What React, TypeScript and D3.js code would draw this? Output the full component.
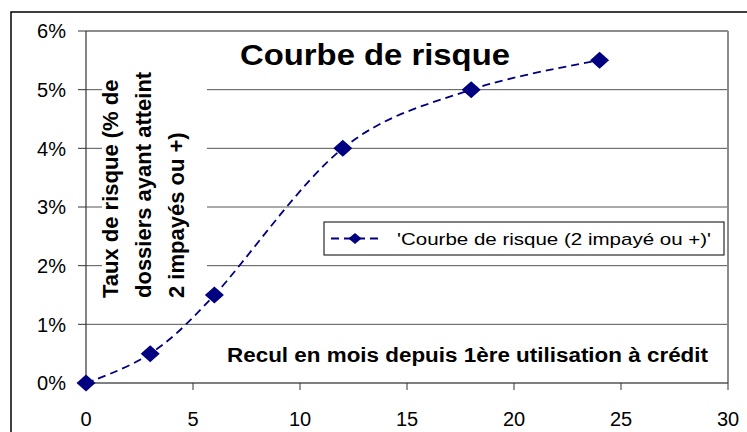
import * as d3 from 'd3'

const months = [0, 3, 6, 12, 18, 24]
const rates = [0, 0.5, 1.5, 4, 5, 5.5]
const xTicks = [0, 5, 10, 15, 20, 25, 30]
const yTicks = [0, 1, 2, 3, 4, 5, 6]
const chartTitle = 'Courbe de risque'
const xTitle = 'Recul en mois depuis 1ère utilisation à crédit'
const yTitleLines = ['Taux de risque (% de', 'dossiers ayant atteint', '2 impayés ou +)']
const legendLabel = "'Courbe de risque (2 impayé ou +)'"

const W = 747
const H = 432
const margin = { left: 86, right: 19, top: 31, bottom: 49 }
const navy = '#000080'
const font = 'Arial, "Liberation Sans", sans-serif'

export default function App() {
  const x = d3.scaleLinear().domain([0, 30]).range([margin.left, W - margin.right])
  const y = d3.scaleLinear().domain([0, 6]).range([H - margin.bottom, margin.top])

  const pts = months.map((m, i) => [x(m), y(rates[i])] as [number, number])
  const line = d3.line().curve(d3.curveCardinal.tension(0))(pts) || ''

  const diamond = (cx: number, cy: number, hw = 9.5, hh = 8.5) =>
    `M${cx},${cy - hh}L${cx + hw},${cy}L${cx},${cy + hh}L${cx - hw},${cy}Z`

  const x0 = x(0)
  const x1 = x(30)
  const yb = y(0)
  const yt = y(6)

  // legend box
  const lg = { x: 324, y: 222, w: 400, h: 33 }
  const lgMid = lg.y + lg.h / 2

  return (
    <svg width={W} height={H} style={{ position: 'absolute', left: 0, top: 0, background: '#fff' }} fontFamily={font}>
      <rect x={0} y={0} width={W} height={H} fill="#fff" />
      {/* outer chart area border */}
      <rect x={11} y={12} width={W + 20} height={H + 20} fill="none" stroke="#000" strokeWidth={1.5} />

      {/* gridlines */}
      {yTicks.filter(t => t > 0 && t < 6).map(t => (
        <line key={t} x1={x0} x2={x1} y1={y(t)} y2={y(t)} stroke="#555" strokeWidth={1} />
      ))}

      {/* plot border top/right */}
      <line x1={x0} x2={x1} y1={yt} y2={yt} stroke="#8c8c8c" strokeWidth={2} />
      <line x1={x1} x2={x1} y1={yt} y2={yb} stroke="#8c8c8c" strokeWidth={2} />

      {/* axes */}
      <line x1={x0} x2={x0} y1={yt} y2={yb} stroke="#333" strokeWidth={1.2} />
      <line x1={x0} x2={x1} y1={yb} y2={yb} stroke="#555" strokeWidth={1.5} />
      {yTicks.map(t => (
        <g key={t}>
          <line x1={x0 - 8} x2={x0} y1={y(t)} y2={y(t)} stroke="#333" strokeWidth={1} />
          <text x={66} y={y(t)} dy="0.36em" textAnchor="end" fontSize={20} fill="#000">{t}%</text>
        </g>
      ))}
      {xTicks.map(t => (
        <g key={t}>
          <line x1={x(t)} x2={x(t)} y1={yb} y2={yb + 7} stroke="#333" strokeWidth={1} />
          <text x={x(t)} y={426} textAnchor="middle" fontSize={20} fill="#000">{t}</text>
        </g>
      ))}

      {/* y axis title with white background */}
      <rect x={102} y={55} width={105} height={246} fill="#fff" />
      {yTitleLines.map((s, i) => (
        <text key={i} transform={`translate(${118 + i * 33},298) rotate(-90)`} fontSize={22} fontWeight="bold" fill="#000">{s}</text>
      ))}

      {/* chart title */}
      <text x={240} y={65} fontSize={29} fontWeight="bold" textLength={270} lengthAdjust="spacingAndGlyphs" fill="#000">{chartTitle}</text>

      {/* x axis title */}
      <text x={227} y={362} fontSize={19.5} fontWeight="bold" textLength={481} lengthAdjust="spacingAndGlyphs" fill="#000">{xTitle}</text>

      {/* series */}
      <path d={line} fill="none" stroke={navy} strokeWidth={1.8} strokeDasharray="8,5" />
      {pts.map((p, i) => (
        <path key={i} d={diamond(p[0], p[1])} fill={navy} />
      ))}

      {/* legend */}
      <rect x={lg.x} y={lg.y} width={lg.w} height={lg.h} fill="#fff" stroke="#000" strokeWidth={1} />
      <line x1={lg.x + 7} x2={lg.x + 56} y1={lgMid} y2={lgMid} stroke={navy} strokeWidth={1.8} strokeDasharray="8,5" />
      <path d={diamond(lg.x + 31, lgMid, 6.5, 5.5)} fill={navy} />
      <text x={397} y={lgMid} dy="0.36em" fontSize={17} textLength={314} lengthAdjust="spacingAndGlyphs" fill="#000">{legendLabel}</text>
    </svg>
  )
}
